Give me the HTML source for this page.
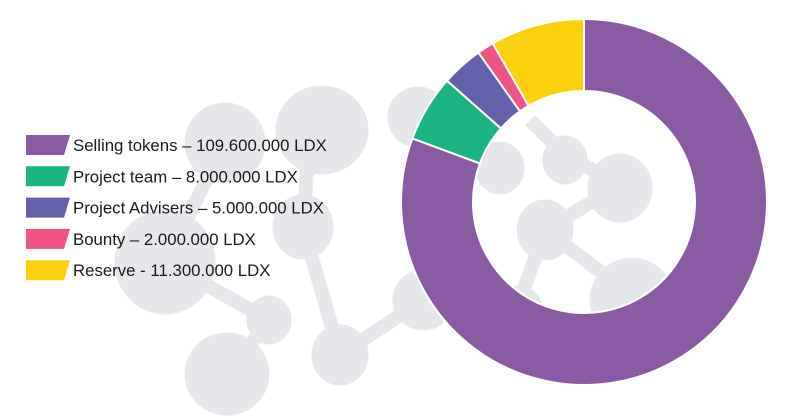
<!DOCTYPE html>
<html><head><meta charset="utf-8"><style>
html,body{margin:0;padding:0;background:#fff;width:810px;height:416px;overflow:hidden}
svg{display:block;overflow:hidden}
</style></head><body>
<svg id="chart" width="810" height="416" viewBox="0 0 810 416">
<g id="bg" fill="#e6e7ea" stroke="#e6e7ea">
  <g stroke-width="14" fill="none">
    <line x1="225" y1="143" x2="165" y2="262"/>
    <line x1="310" y1="130" x2="303" y2="227"/>
    <line x1="303" y1="227" x2="340" y2="355"/>
    <line x1="165" y1="262" x2="269" y2="320"/>
    <line x1="269" y1="320" x2="227" y2="375"/>
    <line x1="340" y1="355" x2="423" y2="300"/>
    <line x1="423" y1="300" x2="520" y2="300"/>
    <line x1="418" y1="117" x2="500" y2="170"/>
    <line x1="530" y1="120" x2="565" y2="155"/>
    <line x1="565" y1="155" x2="620" y2="185"/>
    <line x1="620" y1="185" x2="545" y2="230"/>
    <line x1="545" y1="230" x2="625" y2="290"/>
    <line x1="545" y1="230" x2="520" y2="300"/>
  </g>
  <ellipse cx="322" cy="130" rx="46" ry="44"/>
  <ellipse cx="225" cy="143" rx="40" ry="40"/>
  <ellipse cx="418" cy="117" rx="30" ry="30"/>
  <ellipse cx="165" cy="262" rx="50" ry="52"/>
  <ellipse cx="303" cy="227" rx="30" ry="32"/>
  <ellipse cx="269" cy="320" rx="22" ry="24"/>
  <ellipse cx="340" cy="355" rx="28" ry="30"/>
  <ellipse cx="227" cy="374" rx="42" ry="41"/>
  <ellipse cx="423" cy="300" rx="30" ry="30"/>
  <ellipse cx="500" cy="168" rx="24" ry="26"/>
  <ellipse cx="565" cy="160" rx="22" ry="24"/>
  <ellipse cx="620" cy="188" rx="32" ry="34"/>
  <ellipse cx="545" cy="230" rx="28" ry="30"/>
  <ellipse cx="632" cy="300" rx="42" ry="42"/>
  <ellipse cx="520" cy="310" rx="22" ry="24"/>
</g>
<g id="donut"></g>
<g id="legend"></g>
</svg>
<script>
const labels = ["Selling tokens \u2013 109.600.000 LDX","Project team \u2013 8.000.000 LDX","Project Advisers \u2013 5.000.000 LDX","Bounty \u2013 2.000.000 LDX","Reserve - 11.300.000 LDX"];
const values = [109.6, 8, 5, 2, 11.3];
const colors = ["#8a5ba4","#1bb585","#6461aa","#ef5485","#fdd00e"];
const names = ["slice-selling-tokens","slice-project-team","slice-project-advisers","slice-bounty","slice-reserve"];
const ns="http://www.w3.org/2000/svg";
const cx=584, cy=202, R=183, r=111;
const total=values.reduce((a,b)=>a+b,0);
const donut=document.getElementById('donut');
function pt(rad,a){return [cx+rad*Math.sin(a), cy-rad*Math.cos(a)];}
let a0=0;
values.forEach((v,i)=>{
  const a1=a0+v/total*2*Math.PI;
  const large=(a1-a0)>Math.PI?1:0;
  const [x0,y0]=pt(R,a0),[x1,y1]=pt(R,a1),[x2,y2]=pt(r,a1),[x3,y3]=pt(r,a0);
  const p=document.createElementNS(ns,'path');
  p.setAttribute('d',`M${x0},${y0}A${R},${R} 0 ${large} 1 ${x1},${y1}L${x2},${y2}A${r},${r} 0 ${large} 0 ${x3},${y3}Z`);
  p.setAttribute('fill',colors[i]);
  p.setAttribute('stroke','#fff');
  p.setAttribute('stroke-width','2');
  
  
  donut.appendChild(p);
  a0=a1;
});
const legend=document.getElementById('legend');
labels.forEach((t,i)=>{
  const y=135+i*31.3;
  const g=document.createElementNS(ns,'g');
  
  
  const s=document.createElementNS(ns,'polygon');
  s.setAttribute('points',`26,${y} 70,${y} 64,${y+20} 26,${y+20}`);
  s.setAttribute('fill',colors[i]);
  
  
  const tx=document.createElementNS(ns,'text');
  tx.setAttribute('x',73); tx.setAttribute('y',y+16);
  tx.setAttribute('font-family','"Liberation Sans", sans-serif');
  tx.setAttribute('font-size','16.8');
  tx.setAttribute('fill','#1a1a1a');
  
  
  tx.textContent=t;
  g.appendChild(s); g.appendChild(tx); legend.appendChild(g);
});
</script>
</body></html>
